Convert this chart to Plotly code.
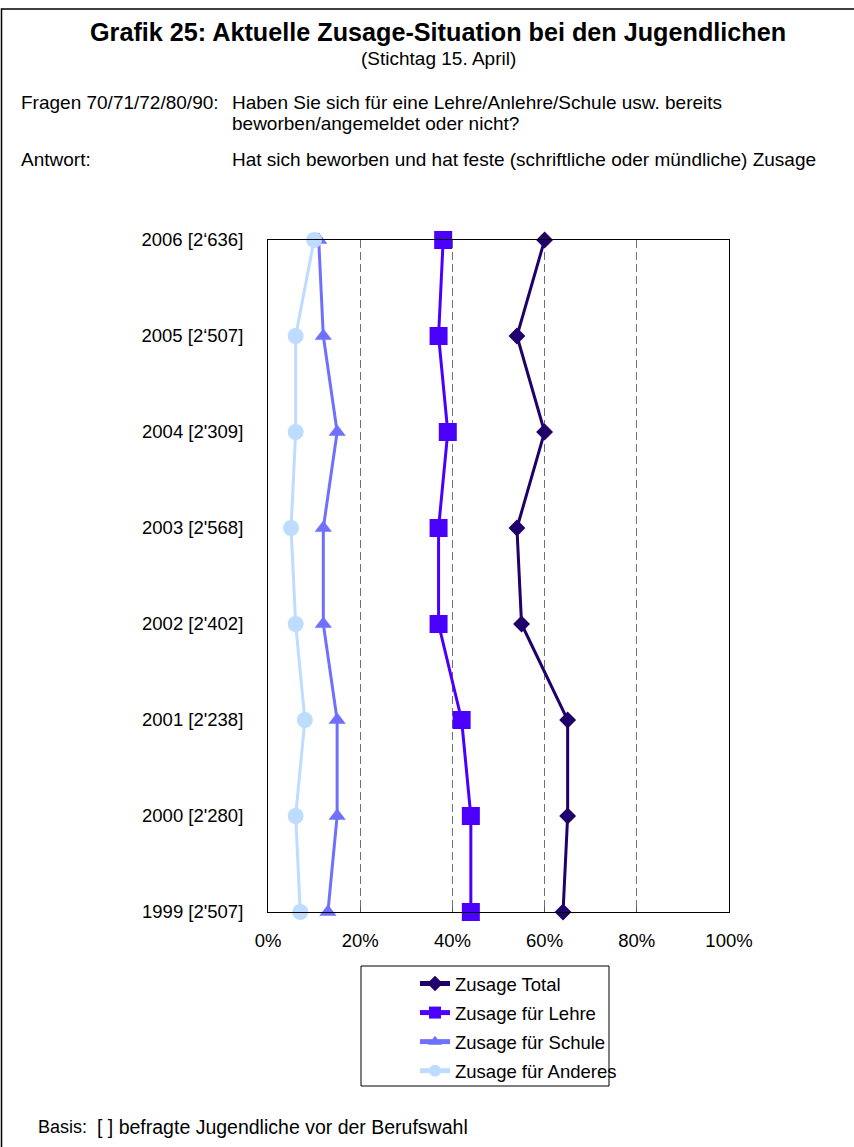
import plotly.graph_objects as go

# ---- data ----
years = ["1999 [2'507]", "2000 [2'280]", "2001 [2'238]", "2002 [2'402]",
         "2003 [2'568]", "2004 [2'309]", "2005 [2\u2018507]", "2006 [2\u2018636]"]
zusage_total = [64, 65, 65, 55, 54, 60, 54, 60]
zusage_lehre = [44, 44, 42, 37, 37, 39, 37, 38]
zusage_schule = [13, 15, 15, 12, 12, 15, 12, 11]
zusage_anderes = [7, 6, 8, 6, 5, 6, 6, 10]
x_ticks = [0, 20, 40, 60, 80, 100]
x_tick_labels = ["0%", "20%", "40%", "60%", "80%", "100%"]

W, H = 854, 1147
L, R, T, B = 268, 729, 240, 912  # plot area in pixels
FONT = "Liberation Sans, Arial, sans-serif"
AX = 18.5
TX = 19


def px(x):
    return (x - L) / (R - L)


def py(y):
    return (B - y) / (B - T)


series = [
    ("Zusage Total", zusage_total, "#20006A", "diamond", 13),
    ("Zusage für Lehre", zusage_lehre, "#4B00FF", "square", 18),
    ("Zusage für Schule", zusage_schule, "#7070FF", "triangle-up", 15),
    ("Zusage für Anderes", zusage_anderes, "#BDDCFF", "circle", 16),
]

fig = go.Figure()
for i, (name, vals, col, sym, sz) in enumerate(series):
    fig.add_trace(go.Scatter(
        x=vals, y=years, name=name, mode="lines+markers",
        line=dict(color=col, width=3),
        marker=dict(symbol=sym, size=sz, color=col),
        cliponaxis=False, legendgroup=f"g{i}",
    ))

fig.update_layout(
    width=W, height=H,
    margin=dict(l=L, r=W - R, t=T, b=H - B),
    paper_bgcolor="white", plot_bgcolor="white",
    font=dict(family=FONT, size=AX, color="black"),
    showlegend=True,
    legend=dict(
        x=px(415), y=py(965), xanchor="left", yanchor="top",
        font=dict(family=FONT, size=AX, color="black"),
        bgcolor="rgba(0,0,0,0)", borderwidth=0,
        traceorder="grouped", tracegroupgap=2, itemsizing="constant",
    ),
    xaxis=dict(
        range=[0, 100], tickvals=x_ticks, ticktext=x_tick_labels,
        showline=True, linecolor="black", linewidth=1, mirror=True,
        ticks="inside", ticklen=5, tickcolor="#555555",
        showgrid=True, gridcolor="#707070", gridwidth=1, griddash="8px,4px",
        zeroline=False, ticklabelstandoff=12,
        tickfont=dict(family=FONT, size=AX, color="black"),
    ),
    yaxis=dict(
        type="category", categoryorder="array", categoryarray=years,
        range=[0, 7], showline=True, linecolor="black", linewidth=1, mirror=True,
        ticks="", showgrid=False, zeroline=False, ticklabelstandoff=20,
        tickfont=dict(family=FONT, size=AX, color="black"),
    ),
)

shapes = [
    # outer frame
    dict(type="rect", xref="paper", yref="paper",
         x0=px(1.5), x1=px(870), y0=py(1170), y1=py(9),
         line=dict(color="black", width=1.5), fillcolor="rgba(0,0,0,0)", layer="above"),
    # legend box
    dict(type="rect", xref="paper", yref="paper",
         x0=px(361), x1=px(609), y0=py(1086), y1=py(966),
         line=dict(color="black", width=1), fillcolor="rgba(0,0,0,0)"),
]
fig.update_layout(shapes=shapes)


def ann(text, x, y, size=TX, bold=False, xanchor="left"):
    fig.add_annotation(
        text=f"<b>{text}</b>" if bold else text,
        x=px(x), y=py(y), xref="paper", yref="paper",
        xanchor=xanchor, yanchor="middle", showarrow=False,
        font=dict(family=FONT, size=size, color="black"),
    )


ann("Grafik 25: Aktuelle Zusage-Situation bei den Jugendlichen", 438, 32, size=25.2, bold=True, xanchor="center")
ann("(Stichtag 15. April)", 438, 59, size=19, xanchor="center")
ann("Fragen 70/71/72/80/90:", 19, 102)
ann("Haben Sie sich für eine Lehre/Anlehre/Schule usw. bereits", 230, 102)
ann("beworben/angemeldet oder nicht?", 230, 124)
ann("Antwort:", 19, 159)
ann("Hat sich beworben und hat feste (schriftliche oder mündliche) Zusage", 230, 159)
ann("Basis:", 36, 1127, size=18)
ann("[ ] befragte Jugendliche vor der Berufswahl", 95, 1127, size=19.5)

fig.write_html(
    "out.html",
    config={"displayModeBar": False},
    post_script="document.body.style.margin='0';document.body.style.overflow='hidden';",
)
